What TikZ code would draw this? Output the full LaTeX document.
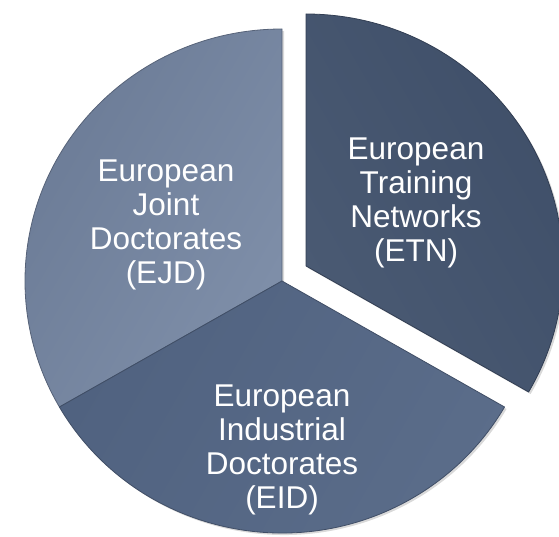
\documentclass[tikz,border=0pt]{standalone}
\usepackage{fontspec}
\setmainfont{Liberation Sans}
\usetikzlibrary{shadows}

\definecolor{ejdlow}{HTML}{6B7B96}
\definecolor{ejdhigh}{HTML}{7F8FA9}
\definecolor{eidlow}{HTML}{506280}
\definecolor{eidhigh}{HTML}{5B6D8A}
\definecolor{etnlow}{HTML}{3E4E68}
\definecolor{etnhigh}{HTML}{4A5A73}

\tikzset{
  slice/.style={draw=#1, line width=0.8pt, line join=round,
    drop shadow={shadow xshift=2pt, shadow yshift=-2pt, opacity=0.3}},
  slicelabel/.style={text=white, align=center, inner sep=0pt,
    font=\fontsize{31.5}{34}\selectfont}
}

\begin{document}
\begin{tikzpicture}[x=1pt,y=1pt]
  \useasboundingbox (0,0) rectangle (559,536);
  \coordinate (c) at (282,255);
  \coordinate (ce) at (306,270);

  % European Joint Doctorates
  \shade[slice=ejdlow!80!black, left color=ejdlow, right color=ejdhigh, shading angle=60]
    (c) -- ++(0,252) arc[start angle=90, end angle=210, x radius=257, y radius=252] -- cycle;
  % European Industrial Doctorates
  \shade[slice=eidlow!80!black, left color=eidlow, right color=eidhigh, shading angle=60]
    (c) -- ++(-222.6,-126) arc[start angle=210, end angle=330, x radius=257, y radius=252] -- cycle;
  % European Training Networks, pulled out
  \shade[slice=etnlow!80!black, left color=etnhigh, right color=etnlow, shading angle=120]
    (ce) -- ++(222.6,-126) arc[start angle=-30, end angle=90, x radius=257, y radius=252] -- cycle;

  \node[slicelabel] (ejd) at (166,311) {European\\Joint\\Doctorates\\(EJD)};
  \node[slicelabel] (etn) at (416,333) {European\\Training\\Networks\\(ETN)};
  \node[slicelabel] (eid) at (282,86) {European\\Industrial\\Doctorates\\(EID)};

\end{tikzpicture}
\end{document}
